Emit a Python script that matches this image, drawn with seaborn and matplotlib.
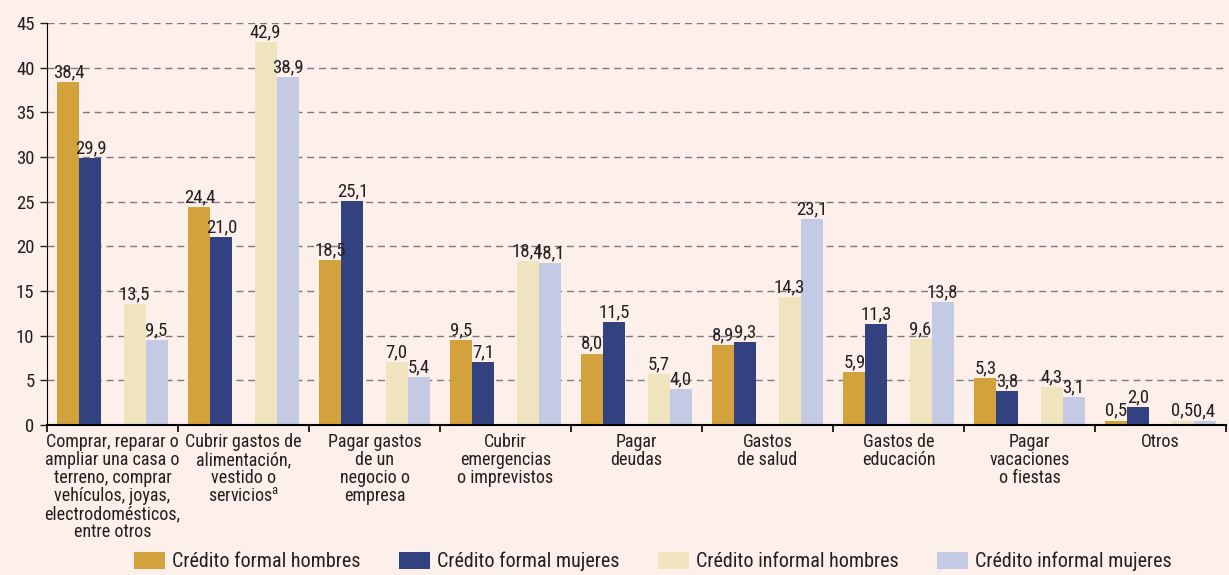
import numpy as np
import pandas as pd
import matplotlib.pyplot as plt
import seaborn as sns
from matplotlib.patches import Patch

# data
categorias = ['Comprar, reparar o\nampliar una casa o\nterreno, comprar\nvehículos, joyas,\nelectrodomésticos,\nentre otros',
              'Cubrir gastos de\nalimentación,\nvestido o\nservicios$^{\\mathrm{a}}$',
              'Pagar gastos\nde un\nnegocio o\nempresa',
              'Cubrir\nemergencias\no imprevistos',
              'Pagar\ndeudas',
              'Gastos\nde salud',
              'Gastos de\neducación',
              'Pagar\nvacaciones\no fiestas',
              'Otros']
series = ['Crédito formal hombres', 'Crédito formal mujeres', 'Crédito informal hombres', 'Crédito informal mujeres']
formal_hombres = [38.4, 24.4, 18.5, 9.5, 8.0, 8.9, 5.9, 5.3, 0.5]
formal_mujeres = [29.9, 21.0, 25.1, 7.1, 11.5, 9.3, 11.3, 3.8, 2.0]
informal_hombres = [13.5, 42.9, 7.0, 18.4, 5.7, 14.3, 9.6, 4.3, 0.5]
informal_mujeres = [9.5, 38.9, 5.4, 18.1, 4.0, 23.1, 13.8, 3.1, 0.4]
colores = ['#D4A23C', '#324281', '#F0E4BE', '#C5CAE4']

bg = '#FDEFE9'
txt = '#231F20'

# long dataframe; an empty "gap" level keeps space between formal and informal bars
rows = []
for s, vals in zip(series, [formal_hombres, formal_mujeres, informal_hombres, informal_mujeres]):
    for c, v in zip(categorias, vals):
        rows.append({'cat': c, 'serie': s, 'valor': v})
df = pd.DataFrame(rows)
hue_order = [series[0], series[1], 'gap', series[2], series[3]]
palette = {series[0]: colores[0], series[1]: colores[1], 'gap': bg,
           series[2]: colores[2], series[3]: colores[3]}

fuentes = ['Roboto Condensed', 'Fira Sans Condensed', 'PT Sans Narrow', 'Archivo Narrow', 'DejaVu Sans']
plt.rcParams['font.family'] = fuentes
plt.rcParams['mathtext.fontset'] = 'custom'
plt.rcParams['mathtext.rm'] = 'Roboto Condensed'

fig = plt.figure(figsize=(12.29, 5.75), dpi=100, facecolor=bg)
ax = fig.add_axes([47/1229, 1-425/575, (1226-47)/1229, (425-23)/575])
ax.set_facecolor(bg)

sns.barplot(data=df, x='cat', y='valor', hue='serie', order=categorias, hue_order=hue_order,
            palette=palette, width=0.84, saturation=1, legend=False, ax=ax, errorbar=None)

for cont in ax.containers:
    labels = [f'{v:.1f}'.replace('.', ',') for v in cont.datavalues]
    ax.bar_label(cont, labels=labels, padding=0.5, fontsize=13.5, color=txt)

ax.set_ylim(0, 45)
ax.set_xlim(-0.5, 8.5)
ax.set_yticks(np.arange(0, 46, 5))
ax.yaxis.grid(True, linestyle=(0, (5, 3.5)), color='#7A7A7A', linewidth=1)
ax.set_axisbelow(True)
ax.tick_params(axis='y', labelsize=13.5, colors=txt, length=5, width=1, direction='out', pad=4)
ax.set_xticks(np.arange(-0.5, 9, 1))
ax.set_xticklabels([])
ax.set_xticks(np.arange(0, 9), minor=True)
ax.set_xticklabels(categorias, minor=True, fontsize=13, color=txt, linespacing=1.0, va='top')
ax.tick_params(axis='x', which='major', length=5, width=1.2, direction='out', colors='black')
ax.tick_params(axis='x', which='minor', length=0, pad=6)
ax.set_xlabel('')
ax.set_ylabel('')
for s in ['top', 'right']:
    ax.spines[s].set_visible(False)
ax.spines['left'].set_color('black')
ax.spines['bottom'].set_color('black')
ax.spines['bottom'].set_linewidth(1.5)
# grid at 0 hidden by axis
ax.get_ygridlines()[0].set_visible(False)

handles = [Patch(facecolor=c, edgecolor='none') for c in colores]
fig.legend(handles, series, loc='lower center', bbox_to_anchor=(653/1229, -0.025), ncol=4,
           frameon=False, fontsize=14.5, handlelength=1.55, handleheight=0.95,
           columnspacing=1.9, handletextpad=0.35, labelcolor=txt)

plt.savefig('out.png', dpi=100, facecolor=bg)
plt.close()
